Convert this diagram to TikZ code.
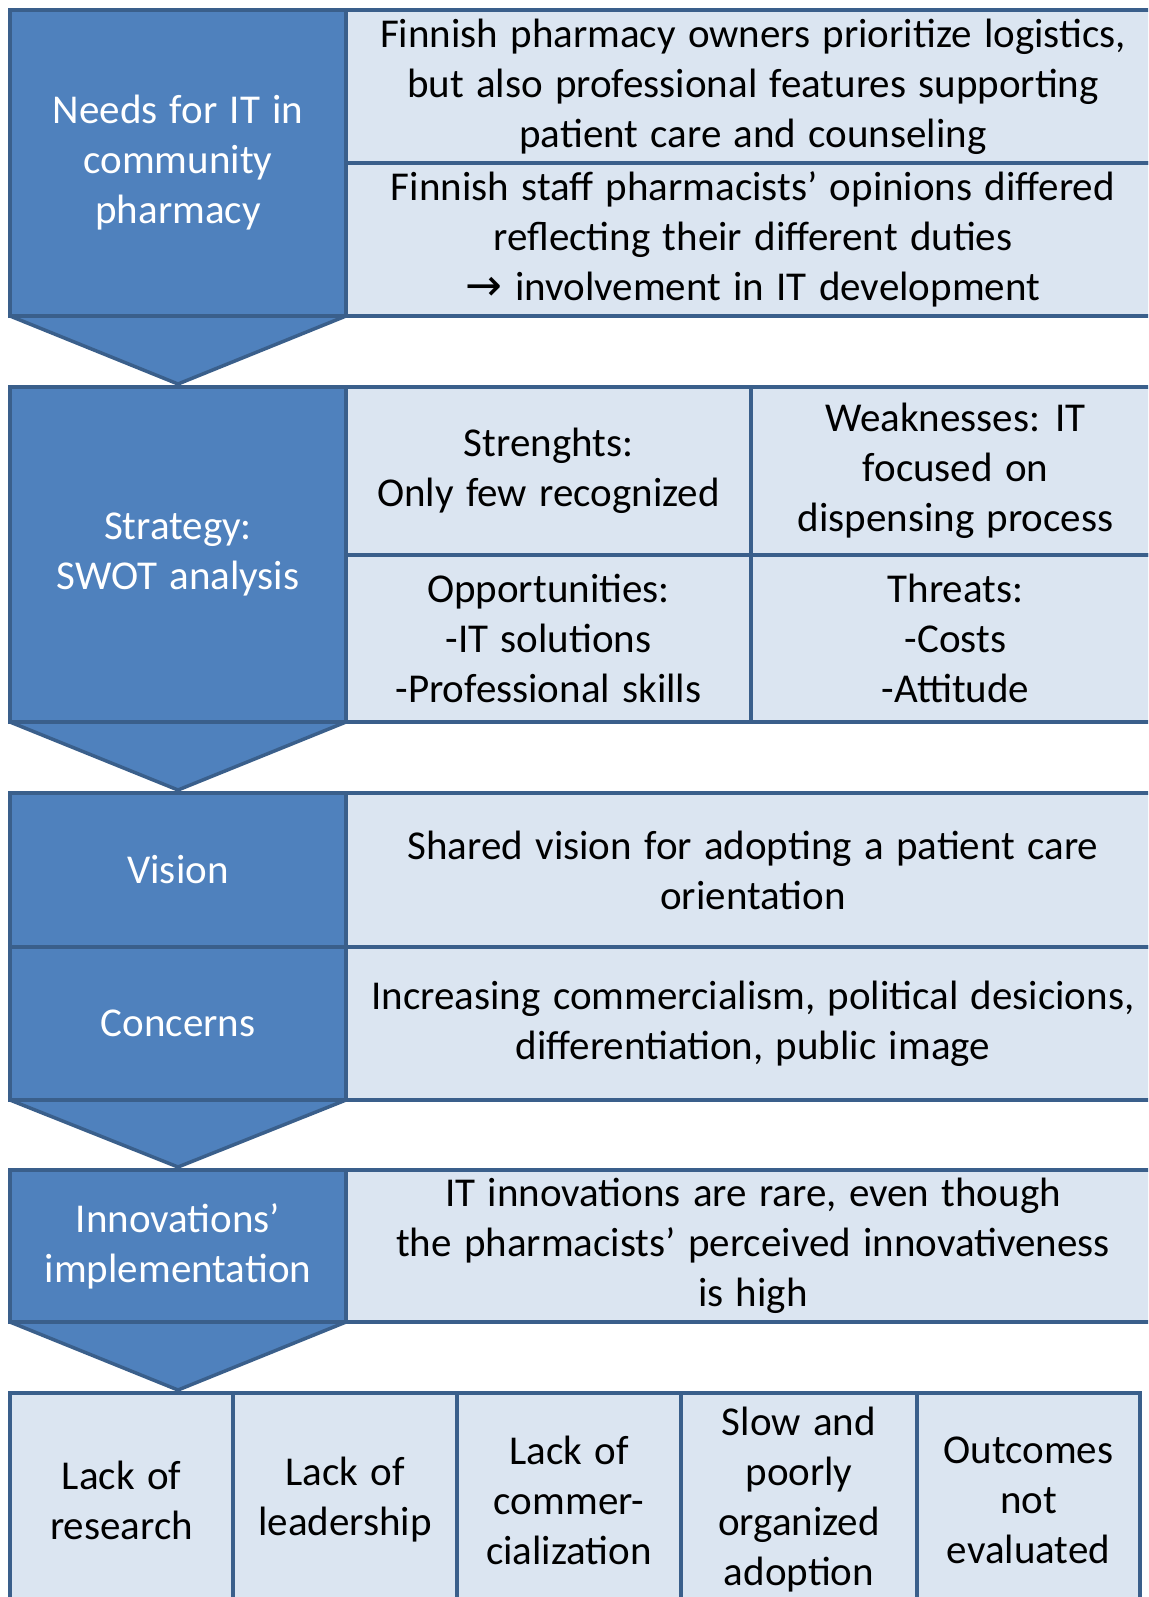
\documentclass[tikz,border=0pt]{standalone}
\usepackage{fontspec}
\setmainfont{Carlito}
\newfontfamily\symfont{DejaVu Sans}
\definecolor{lblue}{HTML}{4F81BD}
\definecolor{pblue}{HTML}{DBE5F1}
\definecolor{bord}{HTML}{3A5F8B}
\newcommand{\cellfont}{\fontsize{41}{50}\selectfont\spaceskip 0.3em plus 0.1em minus 0.05em\relax}
\tikzset{
  base/.style={draw=bord, line width=3.5pt, inner sep=0pt, outer sep=0pt, align=center,
     font=\cellfont},
  lcell/.style={base, fill=lblue, text=white},
  rcell/.style={base, fill=pblue, text=black},
  chev/.style={draw=bord, line width=3.5pt, fill=lblue, line join=bevel},
}
\newcommand{\cellat}[6]{% name, style, x1, y1, x2, y2 -- text follows
  \node[#2, minimum width={(#5)-(#3)}, minimum height={(#6)-(#4)}] (#1) at ({((#3)+(#5))/2},{((#4)+(#6))/2})}
\begin{document}
\begin{tikzpicture}[x=1pt,y=-1pt]
\useasboundingbox (0,0) rectangle (1148,1597);
\clip (0,0) rectangle (1148,1597);
\fill[white] (0,0) rectangle (1148,1597);

% Section 1
\cellat{needs}{lcell}{10}{10}{346}{316} {Needs for IT in\\community\\pharmacy};
\cellat{own}{rcell}{346}{10}{1160}{163} {Finnish pharmacy owners prioritize logistics,\\but also professional features supporting\\patient care and counseling};
\cellat{staff}{rcell}{346}{163}{1160}{316} {Finnish staff pharmacists’ opinions differed\\reflecting their different duties\\{\symfont\fontsize{44}{50}\selectfont →} involvement in IT development};
\coordinate (t1) at (178,384);
\draw[chev] (needs.south west) -- (needs.south east) -- (t1) -- cycle;

% Section 2
\cellat{strat}{lcell}{10}{387}{346}{722} {Strategy:\\SWOT analysis};
\cellat{str}{rcell}{346}{387}{751}{555} {Strenghts:\\Only few recognized};
\cellat{weak}{rcell}{751}{387}{1160}{555} {Weaknesses: IT\\focused on\\dispensing process};
\cellat{opp}{rcell}{346}{555}{751}{722} {Opportunities:\\-IT solutions\\-Professional skills};
\cellat{thr}{rcell}{751}{555}{1160}{722} {Threats:\\-Costs\\-Attitude};
\coordinate (t2) at (178,790);
\draw[chev] (strat.south west) -- (strat.south east) -- (t2) -- cycle;

% Section 3
\cellat{vis}{lcell}{10}{793}{346}{947} {Vision};
\cellat{visr}{rcell}{346}{793}{1160}{947} {Shared vision for adopting a patient care\\orientation};
\cellat{con}{lcell}{10}{947}{346}{1100} {Concerns};
\cellat{conr}{rcell}{346}{947}{1160}{1100} {Increasing commercialism, political desicions,\\differentiation, public image};
\coordinate (t3) at (178,1167);
\draw[chev] (con.south west) -- (con.south east) -- (t3) -- cycle;

% Section 4
\cellat{inn}{lcell}{10}{1170}{346}{1322} {Innovations’\\implementation};
\cellat{innr}{rcell}{346}{1170}{1160}{1322} {IT innovations are rare, even though\\the pharmacists’ perceived innovativeness\\is high};
\coordinate (t4) at (178,1390);
\draw[chev] (inn.south west) -- (inn.south east) -- (t4) -- cycle;

% Bottom row
\cellat{b1}{rcell}{10}{1393}{233}{1607} {Lack of\\research};
\cellat{b2}{rcell}{233}{1393}{457}{1607} {Lack of\\leadership};
\cellat{b3}{rcell}{457}{1393}{681}{1607} {Lack of\\commer-\\cialization};
\cellat{b4}{rcell}{681}{1393}{917}{1607} {Slow and\\poorly\\organized\\adoption};
\cellat{b5}{rcell}{917}{1393}{1140}{1607} {Outcomes\\not\\evaluated};
\end{tikzpicture}
\end{document}
